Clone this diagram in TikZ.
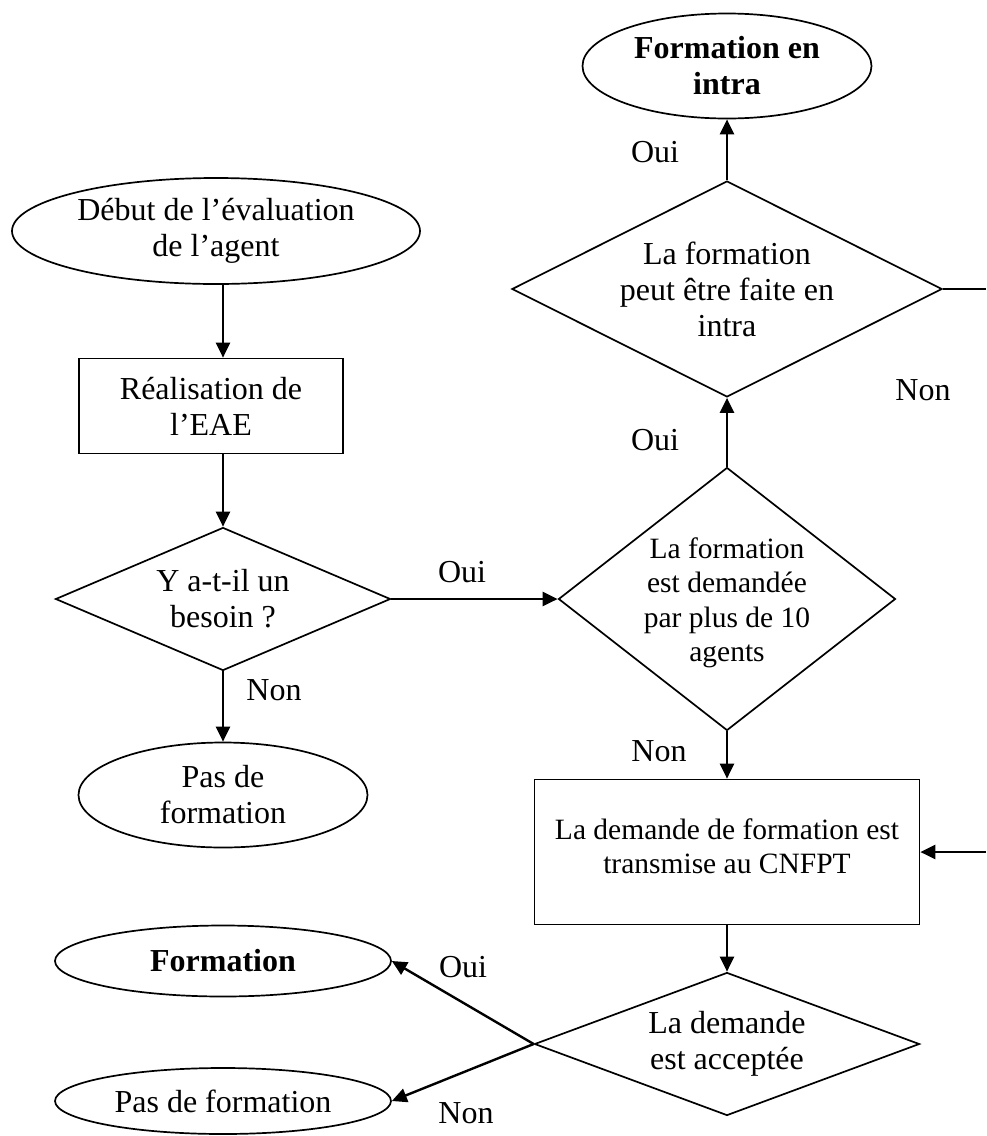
\documentclass[tikz,border=0pt]{standalone}
\usepackage{fontspec}
\setmainfont{Liberation Serif}
\usetikzlibrary{shapes.geometric,arrows.meta}
\begin{document}
\begin{tikzpicture}[x=1pt,y=-1pt,
  every node/.style={font=\fontsize{32}{36}\selectfont},
  shapeline/.style={draw,line width=1.7pt,inner sep=0pt},
  oval/.style={shapeline,ellipse},
  box/.style={shapeline,rectangle},
  decision/.style={shapeline,diamond},
  txt/.style={align=center,inner sep=0pt},
  smalltxt/.style={align=center,inner sep=0pt,font=\fontsize{29.5}{34.5}\selectfont},
  boldtxt/.style={align=center,inner sep=0pt,font=\fontsize{32}{36}\selectfont\bfseries},
  conn/.style={line width=2.4pt,-{Triangle[length=15pt,width=14pt]}},
  plain/.style={line width=2.4pt},
  lbl/.style={inner sep=0pt}]
\useasboundingbox (0,0) rectangle (986,1136);

% shapes
\node[oval,minimum width=289pt,minimum height=105pt,
  label={[boldtxt]center:Formation en\\intra}] (fi) at (727,66) {};
\node[oval,minimum width=408pt,minimum height=106pt,
  label={[txt]center:Début de l’évaluation\\de l’agent}] (deb) at (216,231) {};
\node[box,minimum width=264pt,minimum height=95pt,
  label={[txt]center:Réalisation de\\l’EAE}] (rea) at (211,406) {};
\node[decision,minimum width=335pt,minimum height=143pt,
  label={[txt]center:Y a-t-il un\\besoin ?}] (dY) at (223,599) {};
\node[oval,minimum width=289pt,minimum height=105pt,
  label={[txt]center:Pas de\\formation}] (pf1) at (223,795) {};
\node[decision,minimum width=430pt,minimum height=216pt,
  label={[txt]center:La formation\\peut être faite en\\intra}] (d1) at (727,289) {};
\node[decision,minimum width=337pt,minimum height=263pt,
  label={[smalltxt,yshift=-4pt]center:La formation\\est demandée\\par plus de 10\\agents}] (d2) at (727,599) {};
\node[box,minimum width=385pt,minimum height=145pt,
  label={[smalltxt,yshift=6pt]center:La demande de formation est\\transmise au CNFPT}] (cn) at (727,852) {};
\node[decision,minimum width=385pt,minimum height=143pt,
  label={[txt]center:La demande\\est acceptée}] (d4) at (727,1044) {};
\node[oval,minimum width=336pt,minimum height=71pt,
  label={[boldtxt]center:Formation}] (fo) at (223,961) {};
\node[oval,minimum width=336pt,minimum height=66pt,
  label={[txt]center:Pas de formation}] (pf2) at (223,1101) {};

% free ends at the right edge
\coordinate (eR1) at (986,289);
\coordinate (eR2) at (986,852);

% connectors
\draw[conn] (deb.south -| dY.north) -- (rea.north -| dY.north);
\draw[conn] (rea.south -| dY.north) -- (dY.north);
\draw[conn] (dY.south) -- (pf1.north);
\draw[conn] (dY.east) -- (d2.west);
\draw[conn] (d2.north) -- (d1.south);
\draw[conn] (d1.north) -- (fi.south);
\draw[conn] (d2.south) -- (cn.north);
\draw[conn] (cn.south) -- (d4.north);
\draw[conn] (d4.west) -- (fo.east);
\draw[conn] (d4.west) -- (pf2.east);
\draw[plain] (d1.east) -- (eR1);
\draw[conn] (eR2) -- (cn.east);

% labels
\node[lbl] (l1) at (655,152) {Oui};
\node[lbl] (l2) at (923,390) {Non};
\node[lbl] (l3) at (655,440) {Oui};
\node[lbl] (l4) at (659,751) {Non};
\node[lbl] (l5) at (462,572) {Oui};
\node[lbl] (l6) at (274,690) {Non};
\node[lbl] (l7) at (463,967) {Oui};
\node[lbl] (l8) at (466,1113) {Non};
\end{tikzpicture}
\end{document}
